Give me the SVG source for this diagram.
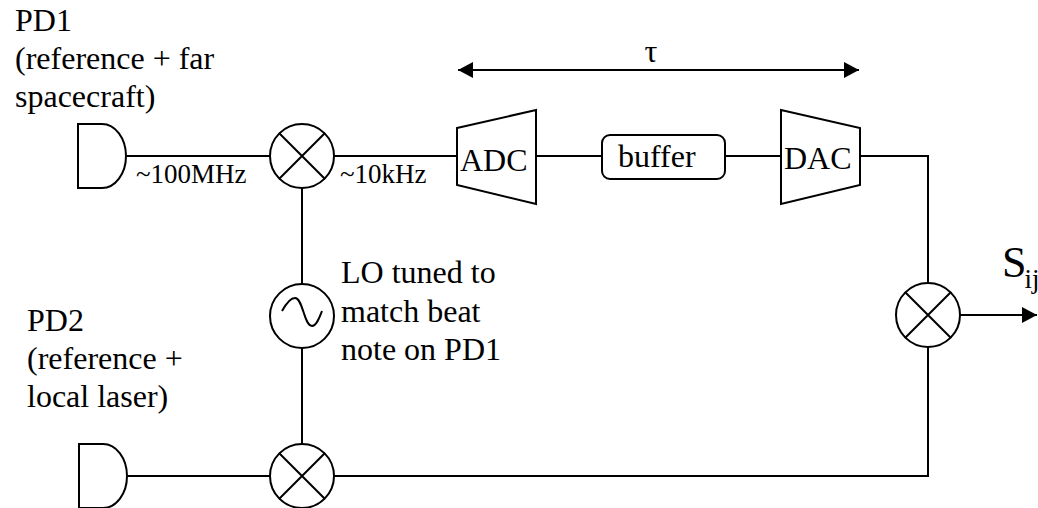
<svg xmlns="http://www.w3.org/2000/svg" width="1038" height="508" viewBox="0 0 1038 508">
<style>
.s{fill:none;stroke:#000;stroke-width:2}
text{font-family:"Liberation Serif","Times New Roman",serif;fill:#000;font-size:32px}
.m{font-size:27px}
.big{font-size:44px}
.sub{font-size:27px}
</style>
<defs>
<marker id="h" markerUnits="userSpaceOnUse" markerWidth="16" markerHeight="18" refX="15" refY="8" orient="auto-start-reverse"><path d="M0 0L15 8L0 16Z" fill="#000"/></marker>
</defs>
<rect width="1038" height="508" fill="#fff"/>
<g id="connectors">
<path class="s" d="M127 156H270M334 156H457M536 156H602M725 156H781M860 156H928V283"/>
<path class="s" d="M302 188V284M302 348V444M128 476H270M334 476H928V347"/>
<path class="s" d="M960 315H1037" marker-end="url(#h)"/>
<path class="s" d="M458 70H859" marker-start="url(#h)" marker-end="url(#h)"/>
</g>
<g id="pd1"><path class="s" d="M78 124H102A24 32 0 0 1 126 156A24 32 0 0 1 102 188H78Z"/>
<text x="15" y="31">PD1</text><text x="15" y="69">(reference + far</text><text x="15" y="107">spacecraft)</text></g>
<g id="pd2"><path class="s" d="M79 444H103A24 32 0 0 1 127 476A24 32 0 0 1 103 508H79Z"/>
<text x="27" y="331">PD2</text><text x="27" y="369">(reference +</text><text x="27" y="407">local laser)</text></g>
<g id="mixer1"><circle class="s" cx="302" cy="156" r="32"/><path class="s" d="M279 133L325 179M325 133L279 179"/></g>
<g id="mixer2"><circle class="s" cx="302" cy="476" r="32"/><path class="s" d="M279 453L325 499M325 453L279 499"/></g>
<g id="mixer3"><circle class="s" cx="928" cy="315" r="32"/><path class="s" d="M905 292L951 338M951 292L905 338"/></g>
<g id="lo"><circle class="s" cx="302" cy="316" r="32"/><path class="s" d="M282 311C287 302 291 298 295 298C303 298 304 326 312 326C316 326 319 319 322 311"/>
<text x="341" y="283">LO tuned to</text><text x="341" y="322">match beat</text><text x="341" y="360">note on PD1</text></g>
<g id="adc"><path class="s" d="M457 128L536 110V204L457 185Z"/><text x="460" y="171">ADC</text></g>
<g id="buffer"><rect class="s" x="602" y="135" width="123" height="44" rx="8"/><text x="618" y="167">buffer</text></g>
<g id="dac"><path class="s" d="M781 110L860 128V185L781 204Z"/><text x="784" y="169">DAC</text></g>
<text x="136" y="183" class="m">~100MHz</text>
<text x="340" y="183" class="m">~10kHz</text>
<text x="651" y="62" text-anchor="middle">τ</text>
<g id="sij"><text x="1002" y="277" class="big">S<tspan class="sub" dx="-2" dy="11">ij</tspan></text></g>
</svg>
